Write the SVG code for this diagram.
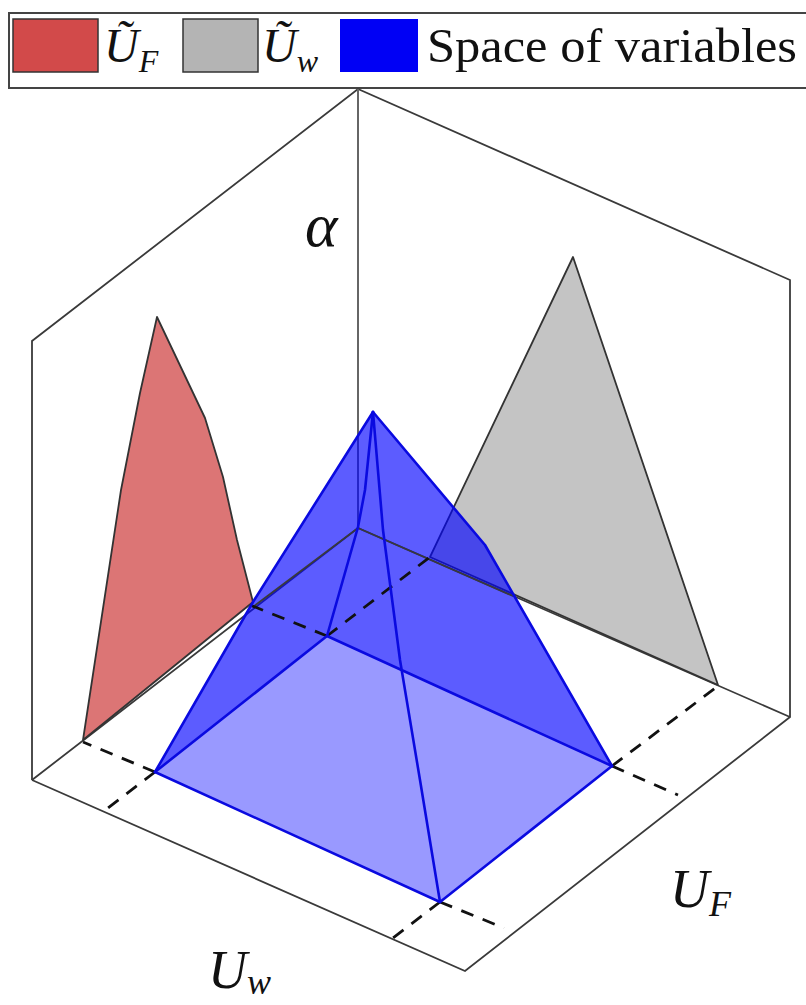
<svg xmlns="http://www.w3.org/2000/svg" width="806" height="1005" viewBox="0 0 806 1005">
<style>
.edge{stroke:#3a3a3a;stroke-width:1.8;fill:none}
.axis{stroke:#666;stroke-width:2;fill:none}
.dash{stroke:#111;stroke-width:2.8;stroke-dasharray:13 10;fill:none}
.bl{stroke:#0a0ae0;stroke-width:2.6;fill:none;stroke-linejoin:round;stroke-linecap:round}
.lbl{font-family:"Liberation Serif","DejaVu Serif",serif;font-style:italic;fill:#111}
.txt{font-family:"Liberation Serif","DejaVu Serif",serif;fill:#111}
</style>
<rect width="806" height="1005" fill="#fff"/>
<g id="legend">
<rect x="9" y="13" width="810" height="75" fill="#fff" stroke="#444" stroke-width="2"/>
<rect x="13" y="19" width="85" height="53" fill="#d24a4a" stroke="#333" stroke-width="1.5"/>
<text class="lbl" x="104" y="62" font-size="48">Ũ<tspan font-size="32" dy="10">F</tspan></text>
<rect x="183" y="19" width="75" height="53" fill="#b4b4b4" stroke="#333" stroke-width="1.5"/>
<text class="lbl" x="262" y="62" font-size="48">Ũ<tspan font-size="32" dy="10">w</tspan></text>
<rect x="340" y="19" width="78" height="53" fill="#0000f5"/>
<text class="txt" x="427" y="62" font-size="48" textLength="370" lengthAdjust="spacingAndGlyphs">Space of variables</text>
</g>
<g id="box">
<polyline class="edge" points="32,780 32,341 358,89 790,280 790,717 465,971 32,780"/>
<polyline class="edge" points="32,780 358,528 790,717"/>
<line class="axis" x1="358" y1="89" x2="358" y2="528"/>
</g>
<g id="Uw-projection">
<polygon points="430,557 573,257 718,685" fill="#c4c4c4" stroke="#333" stroke-width="1.8" stroke-linejoin="round"/>
</g>
<g id="UF-projection">
<polygon points="83,740 121,490 140,393 157,317 205,418 223,477 237,540 253,602" fill="#dc7575" stroke="#333" stroke-width="1.8" stroke-linejoin="round"/>
</g>
<g id="space-of-variables">
<polygon points="373,412 253,602 155,772 327,636 612,766 485,545" fill="#0000ff" fill-opacity="0.64"/>
<polygon points="155,772 327,636 612,766 440,902" fill="#0000ff" fill-opacity="0.4"/>
</g>
<g id="connectors">
<polyline class="edge" points="253,607 358,528 513,596"/>
<line class="dash" x1="327" y1="636" x2="250" y2="605"/>
<line class="dash" x1="327" y1="636" x2="430" y2="557"/>
<line class="dash" x1="155" y1="772" x2="83" y2="742"/>
<line class="dash" x1="155" y1="772" x2="108" y2="808"/>
<line class="dash" x1="612" y1="766" x2="718" y2="686"/>
<line class="dash" x1="612" y1="766" x2="678" y2="795"/>
<line class="dash" x1="440" y1="902" x2="504" y2="928"/>
<line class="dash" x1="440" y1="902" x2="393" y2="938"/>
<polyline class="bl" points="155,772 440,902 612,766"/>
<polyline class="bl" points="155,772 327,636 612,766"/>
<polyline class="bl" points="373,412 253,602 155,772"/>
<polyline class="bl" points="373,412 485,545 612,766"/>
<polyline class="bl" points="373,412 383,530 400,660 420,780 440,902"/>
<polyline class="bl" points="373,412 365,490 358,527 327,636"/>
</g>
<g id="labels">
<text class="lbl" x="305" y="246" font-size="62">α</text>
<text class="lbl" x="208" y="988" font-size="54">U<tspan font-size="36" dy="6">w</tspan></text>
<text class="lbl" x="670" y="907" font-size="54">U<tspan font-size="36" dy="9">F</tspan></text>
</g>
</svg>
